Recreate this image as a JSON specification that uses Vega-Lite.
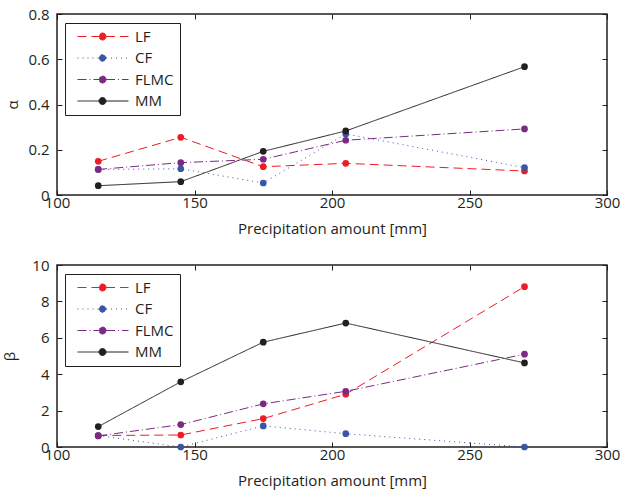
{
  "$schema": "https://vega.github.io/schema/vega-lite/v6.json",
  "background": "white",
  "padding": {"left": 2, "top": 6, "right": 0, "bottom": 5},
  "datasets": {
    "alpha": [
      {"method": "LF", "precip": 115, "value": 0.149},
      {"method": "LF", "precip": 145, "value": 0.255},
      {"method": "LF", "precip": 175, "value": 0.125},
      {"method": "LF", "precip": 205, "value": 0.140},
      {"method": "LF", "precip": 270, "value": 0.106},
      {"method": "CF", "precip": 115, "value": 0.113},
      {"method": "CF", "precip": 145, "value": 0.116},
      {"method": "CF", "precip": 175, "value": 0.053},
      {"method": "CF", "precip": 205, "value": 0.270},
      {"method": "CF", "precip": 270, "value": 0.121},
      {"method": "FLMC", "precip": 115, "value": 0.113},
      {"method": "FLMC", "precip": 145, "value": 0.143},
      {"method": "FLMC", "precip": 175, "value": 0.158},
      {"method": "FLMC", "precip": 205, "value": 0.242},
      {"method": "FLMC", "precip": 270, "value": 0.292},
      {"method": "MM", "precip": 115, "value": 0.041},
      {"method": "MM", "precip": 145, "value": 0.059},
      {"method": "MM", "precip": 175, "value": 0.193},
      {"method": "MM", "precip": 205, "value": 0.283},
      {"method": "MM", "precip": 270, "value": 0.567}
    ],
    "beta": [
      {"method": "LF", "precip": 115, "value": 0.63},
      {"method": "LF", "precip": 145, "value": 0.66},
      {"method": "LF", "precip": 175, "value": 1.56},
      {"method": "LF", "precip": 205, "value": 2.90},
      {"method": "LF", "precip": 270, "value": 8.81},
      {"method": "CF", "precip": 115, "value": 0.63},
      {"method": "CF", "precip": 145, "value": 0.0},
      {"method": "CF", "precip": 175, "value": 1.16},
      {"method": "CF", "precip": 205, "value": 0.73},
      {"method": "CF", "precip": 270, "value": 0.0},
      {"method": "FLMC", "precip": 115, "value": 0.61},
      {"method": "FLMC", "precip": 145, "value": 1.23},
      {"method": "FLMC", "precip": 175, "value": 2.37},
      {"method": "FLMC", "precip": 205, "value": 3.06},
      {"method": "FLMC", "precip": 270, "value": 5.10},
      {"method": "MM", "precip": 115, "value": 1.12},
      {"method": "MM", "precip": 145, "value": 3.58},
      {"method": "MM", "precip": 175, "value": 5.76},
      {"method": "MM", "precip": 205, "value": 6.81},
      {"method": "MM", "precip": 270, "value": 4.62}
    ]
  },
  "config": {
    "font": "Open Sans",
    "view": {"stroke": "#231f20", "strokeWidth": 1.5},
    "axis": {
      "grid": false,
      "domain": false,
      "tickSize": -5,
      "tickColor": "#231f20",
      "tickWidth": 1,
      "labelFlush": false,
      "labelOverlap": false,
      "labelFont": "Open Sans",
      "labelFontSize": 15,
      "labelColor": "#231f20",
      "titleFont": "Open Sans",
      "titleFontSize": 15,
      "titleFontWeight": "normal",
      "titleColor": "#231f20"
    },
    "legend": {
      "orient": "none",
      "legendX": 8,
      "legendY": 9,
      "padding": 6,
      "strokeColor": "#231f20",
      "fillColor": "white",
      "labelFont": "Open Sans",
      "labelFontSize": 15,
      "labelColor": "#231f20",
      "title": null,
      "symbolType": "M-0.2,0H4.1M5.5,0H10M5.5,0A0.7,0.7,0,1,1,4.1,0A0.7,0.7,0,1,1,5.5,0Z",
      "symbolSize": 100,
      "symbolStrokeWidth": 1,
      "labelOffset": 49,
      "rowPadding": 5.5
    }
  },
  "vconcat": [
    {
      "width": 550,
      "height": 181,
      "data": {"name": "alpha"},
      "layer": [
        {
          "mark": {"type": "line", "strokeWidth": 1, "clip": false},
          "encoding": {
            "x": {"field": "precip", "type": "quantitative", "scale": {"domain": [100, 300]},
                  "axis": {"title": "Precipitation amount [mm]", "values": [100, 150, 200, 250, 300], "labelPadding": 5, "titlePadding": 11}},
            "y": {"field": "value", "type": "quantitative", "scale": {"domain": [0, 0.8]},
                  "axis": {"title": "α", "values": [0, 0.2, 0.4, 0.6, 0.8], "format": ".1~f", "labelPadding": 13, "titlePadding": 7}},
            "color": {"field": "method", "type": "nominal",
                      "scale": {"domain": ["LF", "CF", "FLMC", "MM"], "range": ["#ee1c25", "#3a55a4", "#7b2a84", "#231f20"]}},
            "strokeDash": {"field": "method", "type": "nominal",
                           "scale": {"domain": ["LF", "CF", "FLMC", "MM"], "range": [[9, 5], [1, 4], [9, 3, 1, 3], [1, 0]]}}
          }
        },
        {
          "mark": {"type": "point", "filled": true, "opacity": 1, "size": 45},
          "encoding": {
            "x": {"field": "precip", "type": "quantitative", "axis": null},
            "y": {"field": "value", "type": "quantitative", "axis": null},
            "color": {"field": "method", "type": "nominal"}
          }
        },
        {
          "mark": {"type": "point", "opacity": 0},
          "encoding": {
            "x": {"field": "precip", "type": "quantitative",
                  "axis": {"orient": "top", "labels": false, "title": null, "values": [100, 150, 200, 250, 300]}},
            "y": {"field": "value", "type": "quantitative",
                  "axis": {"orient": "right", "labels": false, "title": null, "values": [0, 0.2, 0.4, 0.6, 0.8]}}
          }
        }
      ],
      "resolve": {"axis": {"x": "independent", "y": "independent"}}
    },
    {
      "width": 550,
      "height": 182,
      "data": {"name": "beta"},
      "layer": [
        {
          "mark": {"type": "line", "strokeWidth": 1, "clip": false},
          "encoding": {
            "x": {"field": "precip", "type": "quantitative", "scale": {"domain": [100, 300]},
                  "axis": {"title": "Precipitation amount [mm]", "values": [100, 150, 200, 250, 300], "labelPadding": 5, "titlePadding": 11}},
            "y": {"field": "value", "type": "quantitative", "scale": {"domain": [0, 10]},
                  "axis": {"title": "β", "values": [0, 2, 4, 6, 8, 10], "labelPadding": 13, "titlePadding": 14}},
            "color": {"field": "method", "type": "nominal",
                      "scale": {"domain": ["LF", "CF", "FLMC", "MM"], "range": ["#ee1c25", "#3a55a4", "#7b2a84", "#231f20"]}},
            "strokeDash": {"field": "method", "type": "nominal",
                           "scale": {"domain": ["LF", "CF", "FLMC", "MM"], "range": [[9, 5], [1, 4], [9, 3, 1, 3], [1, 0]]}}
          }
        },
        {
          "mark": {"type": "point", "filled": true, "opacity": 1, "size": 45},
          "encoding": {
            "x": {"field": "precip", "type": "quantitative", "axis": null},
            "y": {"field": "value", "type": "quantitative", "axis": null},
            "color": {"field": "method", "type": "nominal"}
          }
        },
        {
          "mark": {"type": "point", "opacity": 0},
          "encoding": {
            "x": {"field": "precip", "type": "quantitative",
                  "axis": {"orient": "top", "labels": false, "title": null, "values": [100, 150, 200, 250, 300]}},
            "y": {"field": "value", "type": "quantitative",
                  "axis": {"orient": "right", "labels": false, "title": null, "values": [0, 2, 4, 6, 8, 10]}}
          }
        }
      ],
      "resolve": {"axis": {"x": "independent", "y": "independent"}}
    }
  ],
  "spacing": 70,
  "bounds": "flush",
  "resolve": {
    "scale": {"color": "independent", "strokeDash": "independent", "x": "independent", "y": "independent"},
    "legend": {"color": "independent", "strokeDash": "independent"}
  }
}
